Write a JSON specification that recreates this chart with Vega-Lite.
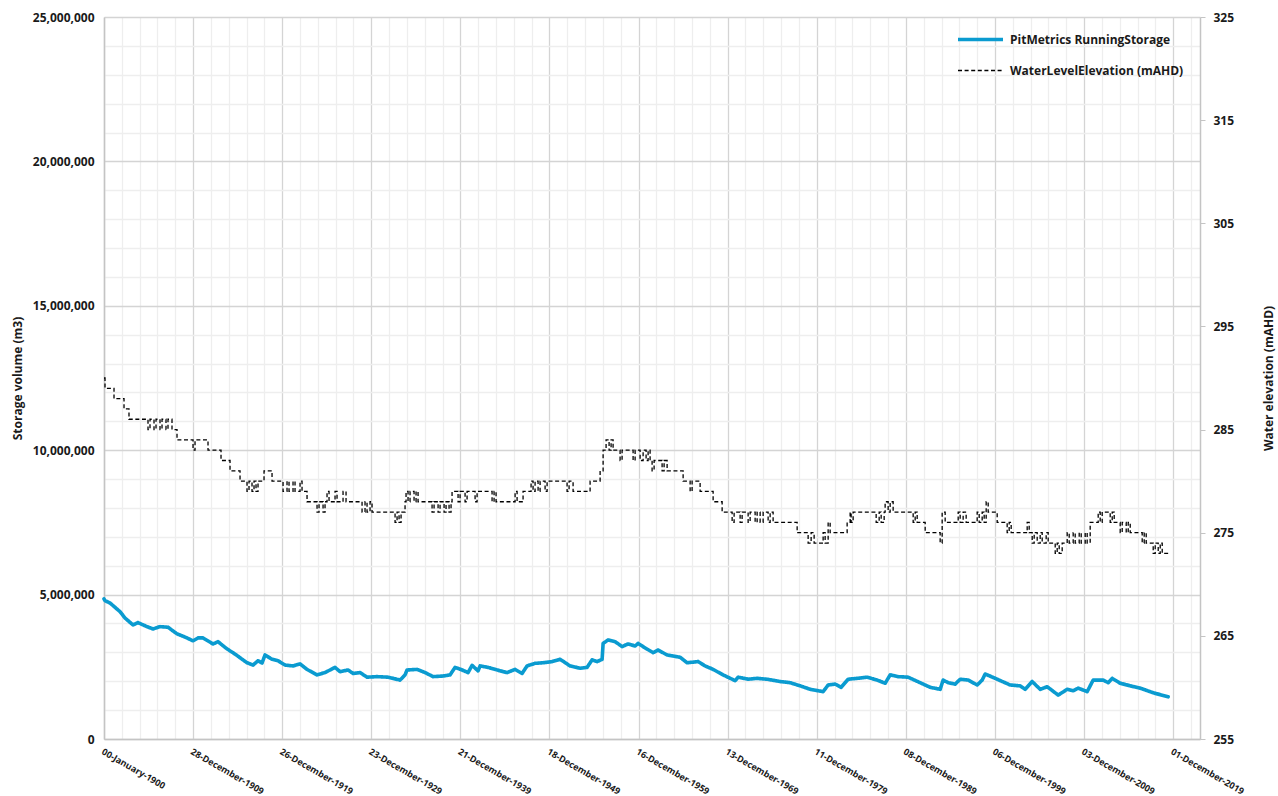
{
  "$schema": "https://vega.github.io/schema/vega-lite/v6.json",
  "width": 1096,
  "height": 722,
  "autosize": "none",
  "padding": {"left": 104, "top": 17, "right": 78, "bottom": 57},
  "background": "white",
  "config": {
    "view": {"stroke": null},
    "font": "Open Sans",
    "axis": {"labelFont": "Open Sans", "titleFont": "Open Sans", "labelFontWeight": "bold", "titleFontWeight": "bold", "labelColor": "#1a1a1a", "titleColor": "#1a1a1a", "domainColor": "#c4c4c4", "tickColor": "#c4c4c4"},
    "legend": {"labelFont": "Open Sans"}
  },
  "datasets": {
    "storage": [
      {"day": 0, "volume": 4850000}, {"day": 41, "volume": 4790000}, {"day": 246, "volume": 4710000}, {"day": 656, "volume": 4410000},
      {"day": 860, "volume": 4190000}, {"day": 1188, "volume": 3950000}, {"day": 1393, "volume": 4030000}, {"day": 1762, "volume": 3890000},
      {"day": 2008, "volume": 3810000}, {"day": 2295, "volume": 3890000}, {"day": 2622, "volume": 3870000}, {"day": 2991, "volume": 3640000},
      {"day": 3319, "volume": 3530000}, {"day": 3647, "volume": 3400000}, {"day": 3852, "volume": 3500000}, {"day": 4057, "volume": 3500000},
      {"day": 4466, "volume": 3290000}, {"day": 4671, "volume": 3370000}, {"day": 5040, "volume": 3120000}, {"day": 5368, "volume": 2940000},
      {"day": 5859, "volume": 2640000}, {"day": 6105, "volume": 2560000}, {"day": 6310, "volume": 2710000}, {"day": 6474, "volume": 2630000},
      {"day": 6597, "volume": 2910000}, {"day": 6884, "volume": 2760000}, {"day": 7130, "volume": 2710000}, {"day": 7416, "volume": 2560000},
      {"day": 7744, "volume": 2530000}, {"day": 8031, "volume": 2600000}, {"day": 8318, "volume": 2410000}, {"day": 8728, "volume": 2220000},
      {"day": 9055, "volume": 2300000}, {"day": 9260, "volume": 2390000}, {"day": 9465, "volume": 2480000}, {"day": 9670, "volume": 2330000},
      {"day": 9998, "volume": 2390000}, {"day": 10203, "volume": 2270000}, {"day": 10490, "volume": 2300000}, {"day": 10776, "volume": 2140000},
      {"day": 11186, "volume": 2160000}, {"day": 11637, "volume": 2140000}, {"day": 12128, "volume": 2040000}, {"day": 12333, "volume": 2220000},
      {"day": 12415, "volume": 2390000}, {"day": 12825, "volume": 2410000}, {"day": 13153, "volume": 2300000}, {"day": 13481, "volume": 2160000},
      {"day": 13890, "volume": 2180000}, {"day": 14177, "volume": 2220000}, {"day": 14382, "volume": 2480000}, {"day": 14669, "volume": 2390000},
      {"day": 14915, "volume": 2300000}, {"day": 15079, "volume": 2550000}, {"day": 15325, "volume": 2360000}, {"day": 15407, "volume": 2530000},
      {"day": 15734, "volume": 2480000}, {"day": 16226, "volume": 2360000}, {"day": 16513, "volume": 2300000}, {"day": 16841, "volume": 2410000},
      {"day": 17128, "volume": 2270000}, {"day": 17332, "volume": 2530000}, {"day": 17660, "volume": 2620000}, {"day": 17988, "volume": 2640000},
      {"day": 18357, "volume": 2680000}, {"day": 18685, "volume": 2760000}, {"day": 19094, "volume": 2530000}, {"day": 19504, "volume": 2450000},
      {"day": 19791, "volume": 2480000}, {"day": 19996, "volume": 2740000}, {"day": 20201, "volume": 2680000}, {"day": 20406, "volume": 2760000},
      {"day": 20447, "volume": 3310000}, {"day": 20651, "volume": 3430000}, {"day": 20938, "volume": 3370000}, {"day": 21225, "volume": 3200000},
      {"day": 21471, "volume": 3290000}, {"day": 21758, "volume": 3220000}, {"day": 21881, "volume": 3310000}, {"day": 22249, "volume": 3110000},
      {"day": 22495, "volume": 2990000}, {"day": 22700, "volume": 3080000}, {"day": 23069, "volume": 2910000}, {"day": 23601, "volume": 2830000},
      {"day": 23888, "volume": 2640000}, {"day": 24339, "volume": 2680000}, {"day": 24626, "volume": 2530000}, {"day": 24954, "volume": 2410000},
      {"day": 25364, "volume": 2220000}, {"day": 25855, "volume": 2020000}, {"day": 25978, "volume": 2140000}, {"day": 26388, "volume": 2070000},
      {"day": 26757, "volume": 2100000}, {"day": 27166, "volume": 2070000}, {"day": 27699, "volume": 1990000}, {"day": 28109, "volume": 1950000},
      {"day": 28519, "volume": 1840000}, {"day": 28928, "volume": 1720000}, {"day": 29461, "volume": 1640000}, {"day": 29666, "volume": 1870000},
      {"day": 29953, "volume": 1900000}, {"day": 30199, "volume": 1790000}, {"day": 30485, "volume": 2070000}, {"day": 30854, "volume": 2100000},
      {"day": 31264, "volume": 2140000}, {"day": 31674, "volume": 2040000}, {"day": 32002, "volume": 1930000}, {"day": 32207, "volume": 2220000},
      {"day": 32534, "volume": 2160000}, {"day": 32944, "volume": 2140000}, {"day": 33436, "volume": 1950000}, {"day": 33845, "volume": 1790000},
      {"day": 34255, "volume": 1720000}, {"day": 34378, "volume": 2040000}, {"day": 34583, "volume": 1950000}, {"day": 34870, "volume": 1900000},
      {"day": 35075, "volume": 2070000}, {"day": 35403, "volume": 2040000}, {"day": 35772, "volume": 1870000}, {"day": 35976, "volume": 2040000},
      {"day": 36099, "volume": 2250000}, {"day": 36591, "volume": 2070000}, {"day": 37124, "volume": 1870000}, {"day": 37533, "volume": 1840000},
      {"day": 37738, "volume": 1720000}, {"day": 38025, "volume": 1990000}, {"day": 38353, "volume": 1720000}, {"day": 38640, "volume": 1810000},
      {"day": 39090, "volume": 1520000}, {"day": 39459, "volume": 1720000}, {"day": 39705, "volume": 1670000}, {"day": 39910, "volume": 1760000},
      {"day": 40278, "volume": 1640000}, {"day": 40524, "volume": 2040000}, {"day": 40934, "volume": 2040000}, {"day": 41139, "volume": 1950000},
      {"day": 41303, "volume": 2100000}, {"day": 41631, "volume": 1930000}, {"day": 42041, "volume": 1840000}, {"day": 42450, "volume": 1760000},
      {"day": 42983, "volume": 1600000}, {"day": 43597, "volume": 1460000}
    ],
    "level": [
      {"day": 0, "elev": 290}, {"day": 41, "elev": 289}, {"day": 410, "elev": 288}, {"day": 820, "elev": 287}, {"day": 1024, "elev": 286},
      {"day": 1803, "elev": 285}, {"day": 1885, "elev": 286}, {"day": 2049, "elev": 285}, {"day": 2131, "elev": 286}, {"day": 2295, "elev": 285},
      {"day": 2377, "elev": 286}, {"day": 2540, "elev": 285}, {"day": 2622, "elev": 286}, {"day": 2786, "elev": 285}, {"day": 2991, "elev": 284},
      {"day": 3647, "elev": 283}, {"day": 3729, "elev": 284}, {"day": 4261, "elev": 283}, {"day": 4794, "elev": 282}, {"day": 5163, "elev": 281},
      {"day": 5573, "elev": 280}, {"day": 5859, "elev": 279}, {"day": 5941, "elev": 280}, {"day": 6064, "elev": 279}, {"day": 6146, "elev": 280},
      {"day": 6228, "elev": 279}, {"day": 6310, "elev": 280}, {"day": 6556, "elev": 281}, {"day": 6884, "elev": 280}, {"day": 7335, "elev": 279},
      {"day": 7498, "elev": 280}, {"day": 7580, "elev": 279}, {"day": 7744, "elev": 280}, {"day": 7826, "elev": 279}, {"day": 8031, "elev": 280},
      {"day": 8113, "elev": 279}, {"day": 8318, "elev": 278}, {"day": 8728, "elev": 277}, {"day": 8810, "elev": 278}, {"day": 8974, "elev": 277},
      {"day": 9055, "elev": 278}, {"day": 9137, "elev": 279}, {"day": 9219, "elev": 278}, {"day": 9465, "elev": 279}, {"day": 9547, "elev": 278},
      {"day": 9793, "elev": 279}, {"day": 9916, "elev": 278}, {"day": 10572, "elev": 277}, {"day": 10694, "elev": 278}, {"day": 10776, "elev": 277},
      {"day": 10899, "elev": 278}, {"day": 10981, "elev": 277}, {"day": 11924, "elev": 276}, {"day": 12006, "elev": 277}, {"day": 12088, "elev": 276},
      {"day": 12170, "elev": 277}, {"day": 12333, "elev": 278}, {"day": 12374, "elev": 279}, {"day": 12456, "elev": 278}, {"day": 12538, "elev": 279},
      {"day": 12702, "elev": 278}, {"day": 12784, "elev": 279}, {"day": 12866, "elev": 278}, {"day": 13440, "elev": 277}, {"day": 13522, "elev": 278},
      {"day": 13686, "elev": 277}, {"day": 13768, "elev": 278}, {"day": 13932, "elev": 277}, {"day": 14013, "elev": 278}, {"day": 14136, "elev": 277},
      {"day": 14218, "elev": 278}, {"day": 14259, "elev": 279}, {"day": 14505, "elev": 278}, {"day": 14587, "elev": 279}, {"day": 14792, "elev": 278},
      {"day": 14874, "elev": 279}, {"day": 15202, "elev": 278}, {"day": 15284, "elev": 279}, {"day": 15898, "elev": 278}, {"day": 15980, "elev": 279},
      {"day": 16062, "elev": 278}, {"day": 16841, "elev": 279}, {"day": 16923, "elev": 278}, {"day": 17168, "elev": 279}, {"day": 17496, "elev": 280},
      {"day": 17578, "elev": 279}, {"day": 17660, "elev": 280}, {"day": 17783, "elev": 279}, {"day": 17865, "elev": 280}, {"day": 18070, "elev": 279},
      {"day": 18152, "elev": 280}, {"day": 18971, "elev": 279}, {"day": 19053, "elev": 280}, {"day": 19217, "elev": 279}, {"day": 19914, "elev": 280},
      {"day": 20324, "elev": 281}, {"day": 20447, "elev": 283}, {"day": 20569, "elev": 284}, {"day": 20692, "elev": 283}, {"day": 20774, "elev": 284},
      {"day": 20856, "elev": 283}, {"day": 21143, "elev": 282}, {"day": 21225, "elev": 283}, {"day": 21676, "elev": 282}, {"day": 21758, "elev": 283},
      {"day": 21963, "elev": 282}, {"day": 22086, "elev": 283}, {"day": 22208, "elev": 282}, {"day": 22290, "elev": 283}, {"day": 22372, "elev": 282},
      {"day": 22454, "elev": 281}, {"day": 22536, "elev": 282}, {"day": 22864, "elev": 281}, {"day": 22946, "elev": 282}, {"day": 23069, "elev": 281},
      {"day": 23725, "elev": 280}, {"day": 24012, "elev": 279}, {"day": 24093, "elev": 280}, {"day": 24421, "elev": 279}, {"day": 24954, "elev": 278},
      {"day": 25323, "elev": 277}, {"day": 25733, "elev": 276}, {"day": 25814, "elev": 277}, {"day": 26060, "elev": 276}, {"day": 26142, "elev": 277},
      {"day": 26388, "elev": 276}, {"day": 26470, "elev": 277}, {"day": 26675, "elev": 276}, {"day": 26757, "elev": 277}, {"day": 26880, "elev": 276},
      {"day": 27003, "elev": 277}, {"day": 27207, "elev": 276}, {"day": 27289, "elev": 277}, {"day": 27412, "elev": 276}, {"day": 28396, "elev": 275},
      {"day": 28846, "elev": 274}, {"day": 28969, "elev": 275}, {"day": 29092, "elev": 274}, {"day": 29461, "elev": 275}, {"day": 29543, "elev": 274},
      {"day": 29666, "elev": 276}, {"day": 29748, "elev": 275}, {"day": 30444, "elev": 276}, {"day": 30567, "elev": 277}, {"day": 30608, "elev": 276},
      {"day": 30690, "elev": 277}, {"day": 31633, "elev": 276}, {"day": 31756, "elev": 277}, {"day": 31838, "elev": 276}, {"day": 31961, "elev": 277},
      {"day": 32001, "elev": 278}, {"day": 32124, "elev": 277}, {"day": 32206, "elev": 278}, {"day": 32329, "elev": 277}, {"day": 33149, "elev": 276},
      {"day": 33231, "elev": 277}, {"day": 33313, "elev": 276}, {"day": 33641, "elev": 275}, {"day": 34255, "elev": 274}, {"day": 34337, "elev": 277},
      {"day": 34460, "elev": 276}, {"day": 34993, "elev": 277}, {"day": 35075, "elev": 276}, {"day": 35197, "elev": 277}, {"day": 35320, "elev": 276},
      {"day": 35771, "elev": 277}, {"day": 35853, "elev": 276}, {"day": 35976, "elev": 277}, {"day": 36058, "elev": 276}, {"day": 36140, "elev": 278},
      {"day": 36222, "elev": 277}, {"day": 36591, "elev": 276}, {"day": 37000, "elev": 275}, {"day": 37082, "elev": 276}, {"day": 37164, "elev": 275},
      {"day": 37820, "elev": 276}, {"day": 37902, "elev": 275}, {"day": 38025, "elev": 274}, {"day": 38107, "elev": 275}, {"day": 38230, "elev": 274},
      {"day": 38353, "elev": 275}, {"day": 38435, "elev": 274}, {"day": 38598, "elev": 275}, {"day": 38680, "elev": 274}, {"day": 38968, "elev": 273},
      {"day": 39049, "elev": 274}, {"day": 39131, "elev": 273}, {"day": 39254, "elev": 274}, {"day": 39459, "elev": 275}, {"day": 39541, "elev": 274},
      {"day": 39705, "elev": 275}, {"day": 39787, "elev": 274}, {"day": 39951, "elev": 275}, {"day": 40033, "elev": 274}, {"day": 40197, "elev": 275},
      {"day": 40278, "elev": 274}, {"day": 40401, "elev": 276}, {"day": 40729, "elev": 277}, {"day": 40811, "elev": 276}, {"day": 40893, "elev": 277},
      {"day": 41221, "elev": 276}, {"day": 41303, "elev": 277}, {"day": 41385, "elev": 276}, {"day": 41631, "elev": 275}, {"day": 41713, "elev": 276},
      {"day": 41877, "elev": 275}, {"day": 41959, "elev": 276}, {"day": 42041, "elev": 275}, {"day": 42532, "elev": 274}, {"day": 42614, "elev": 275},
      {"day": 42696, "elev": 274}, {"day": 42983, "elev": 273}, {"day": 43065, "elev": 274}, {"day": 43188, "elev": 273}, {"day": 43270, "elev": 274},
      {"day": 43352, "elev": 273}, {"day": 43597, "elev": 273}
    ]
  },
  "encoding": {
    "x": {
      "field": "day",
      "type": "quantitative",
      "scale": {"domain": [0, 44900], "nice": false, "zero": false},
      "axis": {
        "title": null,
        "values": [0,730,1460,2190,2920,3650,4380,5110,5840,6570,7300,8030,8760,9490,10220,10950,11680,12410,13140,13870,14600,15330,16060,16790,17520,18250,18980,19710,20440,21170,21900,22630,23360,24090,24820,25550,26280,27010,27740,28470,29200,29930,30660,31390,32120,32850,33580,34310,35040,35770,36500,37230,37960,38690,39420,40150,40880,41610,42340,43070,43800,44530],
        "labelExpr": "datum.value % 3650 === 0 ? ['00-January-1900','28-December-1909','26-December-1919','23-December-1929','21-December-1939','18-December-1949','16-December-1959','13-December-1969','11-December-1979','08-December-1989','06-December-1999','03-December-2009','01-December-2019'][datum.value / 3650] : ''",
        "labelAngle": 30,
        "labelAlign": "left",
        "labelBaseline": "top",
        "labelFontSize": 9,
        "labelPadding": 8,
        "labelOverlap": false,
        "labelBound": false,
        "labelFlush": false,
        "ticks": false,
        "grid": true,
        "gridColor": {"condition": {"test": "datum.value % 3650 === 0", "value": "#d4d4d4"}, "value": "#eeeeee"},
        "gridWidth": 1.3,
        "domain": true,
        "domainWidth": 1.5
      }
    }
  },
  "layer": [
    {
      "data": {"name": "storage"},
      "mark": {"type": "line", "strokeJoin": "round", "strokeCap": "round"},
      "encoding": {
        "y": {
          "field": "volume",
          "type": "quantitative",
          "scale": {"domain": [0, 25000000], "nice": false},
          "axis": {
            "orient": "left",
            "title": "Storage volume (m3)",
            "titleFontSize": 12,
            "titlePadding": 8,
            "values": [0,1000000,2000000,3000000,4000000,5000000,6000000,7000000,8000000,9000000,10000000,11000000,12000000,13000000,14000000,15000000,16000000,17000000,18000000,19000000,20000000,21000000,22000000,23000000,24000000,25000000],
            "labelExpr": "datum.value % 5000000 === 0 ? format(datum.value, ',') : ''",
            "labelFontSize": 12,
            "labelPadding": 10,
            "labelOverlap": false,
            "labelBound": false,
            "labelFlush": false,
            "ticks": false,
            "grid": true,
            "gridColor": {"condition": {"test": "datum.value % 5000000 === 0", "value": "#d4d4d4"}, "value": "#eeeeee"},
            "gridWidth": 1.3,
            "domain": true,
            "domainWidth": 1.5
          }
        },
        "color": {
          "datum": "PitMetrics RunningStorage",
          "type": "nominal",
          "scale": {"domain": ["PitMetrics RunningStorage", "WaterLevelElevation (mAHD)"], "range": ["#0a9bd0", "#000000"]},
          "legend": {
            "title": null,
            "orient": "none",
            "legendX": 852,
            "legendY": -2,
            "padding": 0,
            "symbolType": "stroke",
            "symbolSize": 2025,
            "labelFontSize": 12,
            "labelFontWeight": "bold",
            "labelColor": "#1a1a1a",
            "labelOffset": 5,
            "labelLimit": 400,
            "rowPadding": -32
          }
        },
        "strokeDash": {
          "datum": "PitMetrics RunningStorage",
          "type": "nominal",
          "scale": {"domain": ["PitMetrics RunningStorage", "WaterLevelElevation (mAHD)"], "range": [[1, 0], [4, 2.6]]}
        },
        "strokeWidth": {
          "datum": "PitMetrics RunningStorage",
          "type": "ordinal",
          "scale": {"domain": ["PitMetrics RunningStorage", "WaterLevelElevation (mAHD)"], "range": [3.6, 1.3]}
        }
      }
    },
    {
      "data": {"name": "level"},
      "mark": {"type": "line", "interpolate": "step-after"},
      "encoding": {
        "y": {
          "field": "elev",
          "type": "quantitative",
          "scale": {"domain": [255, 325], "nice": false, "zero": false},
          "axis": {
            "orient": "right",
            "title": "Water elevation (mAHD)",
            "titleFontSize": 12,
            "titleAngle": 270,
            "titlePadding": 42,
            "values": [255, 265, 275, 285, 295, 305, 315, 325],
            "labelFontSize": 12,
            "labelPadding": 8,
            "ticks": true,
            "tickSize": 5,
            "grid": false,
            "domain": true,
            "domainWidth": 1.5
          }
        },
        "color": {"datum": "WaterLevelElevation (mAHD)", "type": "nominal"},
        "strokeDash": {"datum": "WaterLevelElevation (mAHD)", "type": "nominal"},
        "strokeWidth": {"datum": "WaterLevelElevation (mAHD)", "type": "ordinal"}
      }
    }
  ],
  "resolve": {"scale": {"y": "independent"}}
}
